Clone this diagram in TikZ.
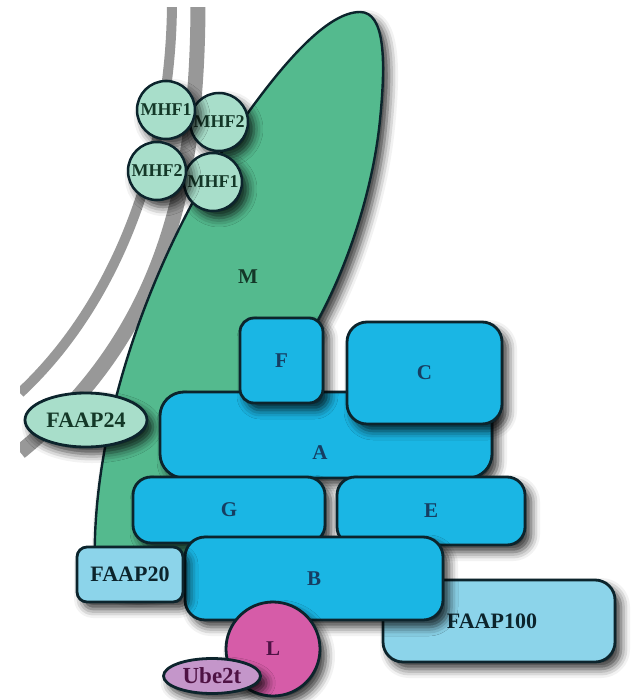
\documentclass[tikz,border=0pt]{standalone}
\usepackage{fontspec}
\setmainfont{Liberation Serif}
\usetikzlibrary{shapes.geometric,shadows.blur}
\definecolor{boxblue}{RGB}{26,182,228}
\definecolor{lightblue}{RGB}{140,212,234}
\definecolor{mgreen}{RGB}{84,186,142}
\definecolor{mint}{RGB}{168,222,202}
\definecolor{lpink}{RGB}{214,92,168}
\definecolor{lav}{RGB}{196,150,202}
\definecolor{outl}{RGB}{12,36,44}
\definecolor{txtblue}{RGB}{22,62,98}
\definecolor{txtgreen}{RGB}{20,56,40}
\definecolor{txtpurple}{RGB}{78,18,68}
\definecolor{memgray}{RGB}{152,152,152}
\begin{document}
\begin{tikzpicture}[x=1pt,y=-1pt,
  edge/.style={draw=outl, line width=2.8pt},
  sh/.style={blur shadow={shadow xshift=6pt, shadow yshift=-7pt, shadow blur radius=9pt, shadow opacity=80}},
  bbox/.style={rectangle, rounded corners=14pt, fill=boxblue, edge, sh, inner sep=0pt, text=txtblue, font=\fontsize{21}{21}\selectfont\bfseries},
  lbox/.style={bbox, fill=lightblue, text=outl, font=\fontsize{22}{22}\selectfont\bfseries},
  mhf/.style={circle, minimum size=58pt, inner sep=0pt, fill=mint, draw=outl, line width=2.5pt, sh, text=txtgreen, font=\fontsize{18}{18}\selectfont\bfseries},
  membrane/.style={draw=memgray}]
\useasboundingbox (0,0) rectangle (636,700);
% membrane bands
\begin{scope}
\clip (20,8) rectangle (636,700);
\draw[membrane, line width=10pt] (172,0) .. controls (172,150) and (120,300) .. (20,393);
\draw[membrane, line width=15pt] (198,0) .. controls (198,170) and (170,330) .. (20,452);
\end{scope}
% M
\path[fill=mgreen, edge, line width=2.4pt, sh] (95,570) .. controls (90,430) and (150,250) .. (250,110)
  .. controls (290,55) and (330,12) .. (360,12)
  .. controls (385,12) and (386,60) .. (380,120)
  .. controls (372,200) and (340,290) .. (300,350)
  -- (200,560) .. controls (170,600) and (100,600) .. (95,570) -- cycle;
\node[text=txtgreen, font=\fontsize{21}{21}\selectfont\bfseries] (M) at (248,277) {M};
% MHF circles
\node[mhf] (mhf2a) at (219,122) {MHF2};
\node[mhf] (mhf1b) at (213,182) {MHF1};
\node[mhf] (mhf1a) at (166,110) {MHF1};
\node[mhf] (mhf2b) at (157,171) {MHF2};
% FAAP24
\node[ellipse, minimum width=122pt, minimum height=54pt, inner sep=0pt, fill=mint, edge, sh, text=txtgreen, font=\fontsize{22}{22}\selectfont\bfseries] (faap24) at (86,420) {FAAP24};
% blue complex
\node[bbox, rounded corners=24pt, minimum width=332pt, minimum height=86pt] (A) at (326,435) {};
\node[text=txtblue, font=\fontsize{21}{21}\selectfont\bfseries] (Alab) at (320,453) {A};
\node[bbox, minimum width=83pt, minimum height=85pt] (F) at (281.5,360.5) {F};
\node[bbox, rounded corners=20pt, minimum width=155pt, minimum height=102pt] (C) at (424.5,373) {C};
\node[bbox, rounded corners=18pt, minimum width=192pt, minimum height=66pt] (G) at (229,510) {G};
\node[bbox, rounded corners=18pt, minimum width=188pt, minimum height=68pt] (E) at (431,511) {E};
\node[lbox, rounded corners=20pt, minimum width=232pt, minimum height=82pt] (faap100) at (499,621) {\hspace*{-14pt}FAAP100};
\node[bbox, rounded corners=20pt, minimum width=258pt, minimum height=83pt] (B) at (314,578.5) {B};
\node[lbox, rounded corners=10pt, minimum width=106pt, minimum height=55pt] (faap20) at (130,574.5) {FAAP20};
% L and Ube2t
\node[circle, minimum size=94pt, inner sep=0pt, fill=lpink, edge, sh, text=txtpurple, font=\fontsize{21}{21}\selectfont\bfseries] (L) at (273,649) {L};
\node[ellipse, minimum width=97pt, minimum height=35pt, inner sep=0pt, fill=lav, edge, sh, text=txtpurple, font=\fontsize{23}{23}\selectfont\bfseries] (ube) at (212,676) {Ube2t};
\end{tikzpicture}
\end{document}
